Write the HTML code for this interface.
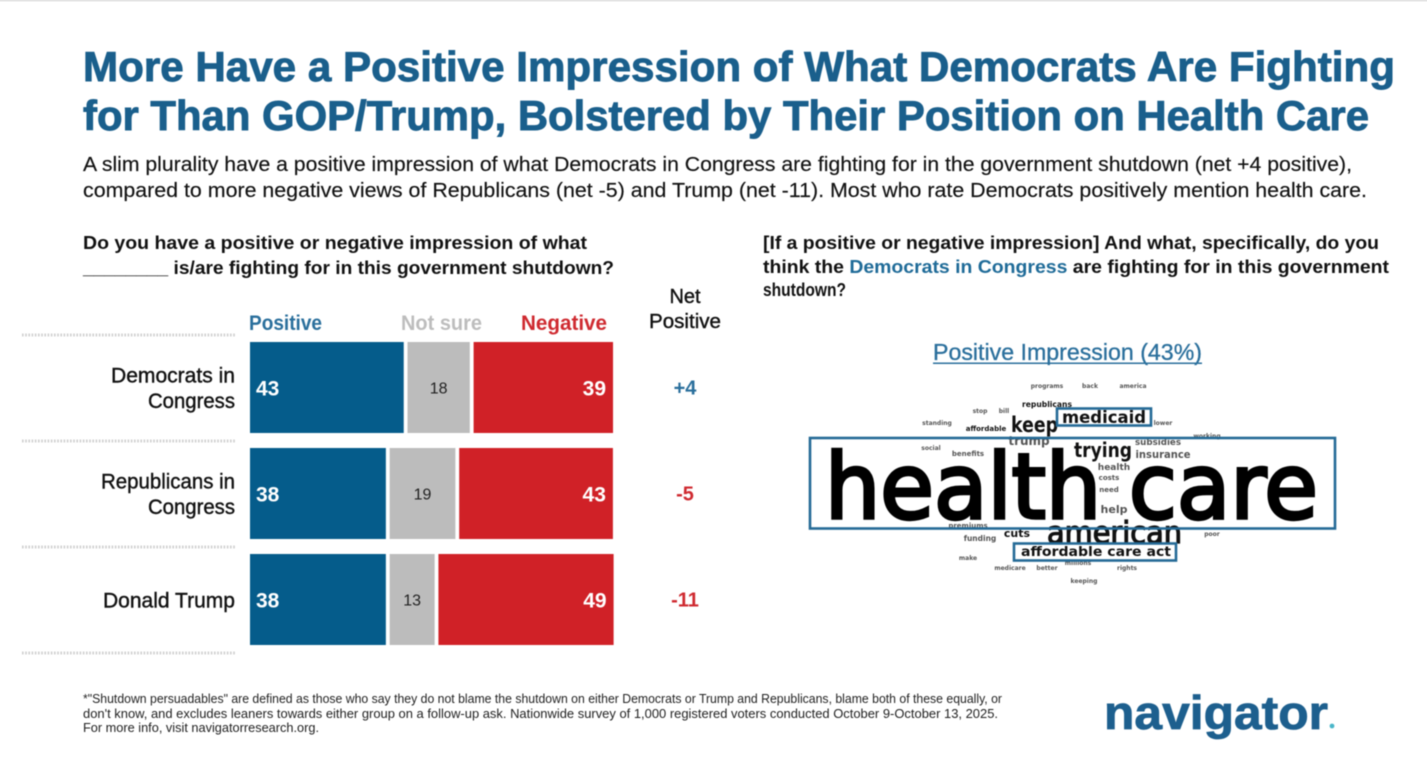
<!DOCTYPE html>
<html lang="en">
<head>
<meta charset="utf-8">
<title>Navigator impressions chart</title>
<style>
html,body{margin:0;padding:0;background:#fff;width:1427px;height:775px;overflow:hidden}
svg{display:block}
text{font-family:"Liberation Sans",sans-serif}
.wc text{font-family:"DejaVu Sans",sans-serif;font-weight:bold;fill:#111}
.wc .sm{fill:#555}
#page{filter:blur(.5px)}
.wc{filter:blur(.35px)}
</style>
</head>
<body>
<svg id="root" width="1427" height="775" viewBox="0 0 1427 775">
<rect x="0" y="0" width="1427" height="775" fill="#fff"/>
<rect x="0" y="0" width="1427" height="1.5" fill="#e3e3e3"/>
<g id="page">
<g fill="#1a5f8c" stroke="#1a5f8c" stroke-width="0.9" font-weight="bold" font-size="42">
<text x="83" y="81" textLength="1312" lengthAdjust="spacingAndGlyphs">More Have a Positive Impression of What Democrats Are Fighting</text>
<text x="83" y="130" textLength="1286" lengthAdjust="spacingAndGlyphs">for Than GOP/Trump, Bolstered by Their Position on Health Care</text>
</g>
<g fill="#111" stroke="#111" stroke-width="0.15" font-size="20">
<text x="83" y="171" textLength="1269" lengthAdjust="spacingAndGlyphs">A slim plurality have a positive impression of what Democrats in Congress are fighting for in the government shutdown (net +4 positive),</text>
<text x="83" y="197" textLength="1284" lengthAdjust="spacingAndGlyphs">compared to more negative views of Republicans (net -5) and Trump (net -11). Most who rate Democrats positively mention health care.</text>
</g>
<g fill="#111" font-size="18.5" font-weight="bold">
<text x="83" y="249" textLength="504" lengthAdjust="spacingAndGlyphs">Do you have a positive or negative impression of what</text>
<text x="83" y="274" textLength="531" lengthAdjust="spacingAndGlyphs">________ is/are fighting for in this government shutdown?</text>
</g>
<g fill="#111" font-size="18.5" font-weight="bold">
<text x="763" y="249" textLength="616" lengthAdjust="spacingAndGlyphs">[If a positive or negative impression] And what, specifically, do you</text>
<text x="763" y="273" textLength="626" lengthAdjust="spacingAndGlyphs">think the <tspan fill="#1f6b98">Democrats in Congress</tspan> are fighting for in this government</text>
<text x="763" y="296" textLength="83" lengthAdjust="spacingAndGlyphs">shutdown?</text>
</g>

<g id="chart"></g>

<text x="933" y="360" textLength="269" lengthAdjust="spacingAndGlyphs" font-size="23" fill="#2a6f9c" stroke="#2a6f9c" stroke-width="0.3">Positive Impression (43%)</text>
<rect x="933" y="362.5" width="269" height="1.5" fill="#2a6f9c"/>

<g class="wc">
<text class="sm" x="1047" y="388" text-anchor="middle" font-size="6">programs</text>
<text class="sm" x="1090" y="388" text-anchor="middle" font-size="6">back</text>
<text class="sm" x="1133" y="388" text-anchor="middle" font-size="6">america</text>
<text x="1047" y="407" text-anchor="middle" font-size="8" textLength="50" lengthAdjust="spacingAndGlyphs">republicans</text>
<text class="sm" x="980" y="413" text-anchor="middle" font-size="6">stop</text>
<text class="sm" x="1004" y="413" text-anchor="middle" font-size="6">bill</text>
<text class="sm" x="937" y="425" text-anchor="middle" font-size="6">standing</text>
<text x="986" y="431" text-anchor="middle" font-size="7">affordable</text>
<text x="1011" y="432" font-size="21" textLength="47" lengthAdjust="spacingAndGlyphs">keep</text>
<text x="1062" y="423" font-size="17" textLength="84" lengthAdjust="spacingAndGlyphs">medicaid</text>
<text class="sm" x="1163" y="425" text-anchor="middle" font-size="6">lower</text>
<text class="sm" x="1207" y="438" text-anchor="middle" font-size="6">working</text>
<text class="sm" x="1029" y="445" text-anchor="middle" font-size="12">trump</text>
<text class="sm" x="1158" y="445" text-anchor="middle" font-size="9" textLength="46" lengthAdjust="spacingAndGlyphs">subsidies</text>
<text class="sm" x="1163" y="458" text-anchor="middle" font-size="11" textLength="55" lengthAdjust="spacingAndGlyphs">insurance</text>
<text class="sm" x="931" y="450" text-anchor="middle" font-size="6">social</text>
<text class="sm" x="968" y="456" text-anchor="middle" font-size="7">benefits</text>
<text x="1074" y="457" font-size="20" textLength="58" lengthAdjust="spacingAndGlyphs">trying</text>
<text class="sm" x="1114" y="470" text-anchor="middle" font-size="9">health</text>
<text class="sm" x="1109" y="480" text-anchor="middle" font-size="7">costs</text>
<text class="sm" x="1109" y="492" text-anchor="middle" font-size="7">need</text>
<text class="sm" x="1114" y="513" text-anchor="middle" font-size="11">help</text>
<text x="825" y="518" font-size="90" textLength="493" lengthAdjust="spacingAndGlyphs" style="font-weight:normal;stroke:#000;stroke-width:3.4;fill:#000">health care</text>
<text class="sm" x="968" y="528" text-anchor="middle" font-size="7">premiums</text>
<text class="sm" x="980" y="541" text-anchor="middle" font-size="7.5">funding</text>
<text x="1017" y="537" text-anchor="middle" font-size="11">cuts</text>
<text x="1047" y="543" font-size="30" textLength="135" lengthAdjust="spacingAndGlyphs" style="font-weight:normal;stroke:#111;stroke-width:1.2">american</text>
<text class="sm" x="1212" y="536" text-anchor="middle" font-size="6">poor</text>
<text x="1021" y="556" font-size="13" textLength="150" lengthAdjust="spacingAndGlyphs">affordable care act</text>
<text class="sm" x="968" y="560" text-anchor="middle" font-size="6">make</text>
<text class="sm" x="1010" y="570" text-anchor="middle" font-size="6">medicare</text>
<text class="sm" x="1047" y="570" text-anchor="middle" font-size="6">better</text>
<text class="sm" x="1078" y="565" text-anchor="middle" font-size="6">millions</text>
<text class="sm" x="1127" y="570" text-anchor="middle" font-size="6">rights</text>
<text class="sm" x="1084" y="583" text-anchor="middle" font-size="6">keeping</text>
<rect x="810" y="438" width="525" height="90.5" fill="none" stroke="#246a96" stroke-width="2.6"/>
<rect x="1057" y="408.5" width="94" height="17" fill="none" stroke="#246a96" stroke-width="2.6"/>
<rect x="1014" y="543.5" width="162" height="17" fill="none" stroke="#246a96" stroke-width="2.6"/>
</g>

<g font-size="13" fill="#222">
<text x="83" y="703" textLength="919" lengthAdjust="spacingAndGlyphs">*"Shutdown persuadables" are defined as those who say they do not blame the shutdown on either Democrats or Trump and Republicans, blame both of these equally, or</text>
<text x="83" y="718" textLength="915" lengthAdjust="spacingAndGlyphs">don't know, and excludes leaners towards either group on a follow-up ask. Nationwide survey of 1,000 registered voters conducted October 9-October 13, 2025.</text>
<text x="83" y="732" textLength="236" lengthAdjust="spacingAndGlyphs">For more info, visit navigatorresearch.org.</text>
</g>
<text x="1104" y="729" font-size="47" font-weight="bold" fill="#1d5f8e" stroke="#1d5f8e" stroke-width="0.8" textLength="224" lengthAdjust="spacingAndGlyphs">navigator</text>
<circle cx="1332" cy="726" r="2.4" fill="#4ab6c9"/>
</g>
</svg>
<script>
const categories = [["Democrats in", "Congress"], ["Republicans in", "Congress"], ["Donald Trump"]];
const positiveValues = [43, 38, 38];
const notSureValues = [18, 19, 13];
const negativeValues = [39, 43, 49];
const netValues = [4, -5, -11];
const legendLabels = ["Positive", "Not sure", "Negative"];

const chart = document.getElementById('chart');
const NS = 'http://www.w3.org/2000/svg';
const BLUE = '#055c8b', GREY = '#bcbcbc', RED = '#d02127';
const plotLeft = 250, rowTop = 342, rowStep = 106, barHeight = 91, gap = 3.8;
const sideUnit = 3.575, middleUnit = 3.46;
const labelFit = {'Democrats in': 124, 'Republicans in': 134, 'Congress': 87, 'Donald Trump': 132};

function sideLen(v) { return v * sideUnit; }
function middleLen(v) { return v * middleUnit; }
function yRow(i) { return rowTop + i * rowStep; }

function svgEl(tag, attrs, text) {
  const el = document.createElementNS(NS, tag);
  for (const k in attrs) el.setAttribute(k, attrs[k]);
  if (text !== undefined) el.textContent = text;
  chart.appendChild(el);
  return el;
}

function addSeparator(y) {
  const el = svgEl('line', {x1: 22, x2: 235, y1: y, y2: y, stroke: '#cfcfcf', 'stroke-width': 3, 'stroke-dasharray': '1.6 1.6'});
  
  
}

const legendAttrs = [
  {x: 249, fill: '#2a6f9c', textLength: 73},
  {x: 401, fill: '#bdbdbd', textLength: 81},
  {x: 521, fill: '#cf2a30', textLength: 86}
];
legendLabels.forEach(function (label, i) {
  const el = svgEl('text', {x: legendAttrs[i].x, y: 330, fill: legendAttrs[i].fill, 'font-size': 21, 'font-weight': 'bold', textLength: legendAttrs[i].textLength, lengthAdjust: 'spacingAndGlyphs'}, label);
  
  
});

const netHead1 = svgEl('text', {x: 685, y: 303, 'text-anchor': 'middle', fill: '#111', stroke: '#111', 'stroke-width': 0.4, 'font-size': 20}, 'Net');


const netHead2 = svgEl('text', {x: 685, y: 328, 'text-anchor': 'middle', fill: '#111', stroke: '#111', 'stroke-width': 0.4, 'font-size': 20, textLength: 72, lengthAdjust: 'spacingAndGlyphs'}, 'Positive');



categories.forEach(function (cat, i) {
  const top = yRow(i);
  const mid = top + barHeight / 2;
  addSeparator(top - 7);

  const lines = cat.length;
  cat.forEach(function (line, j) {
    const baseline = lines === 2 ? mid + (j === 0 ? -5 : 20.5) : mid + 8;
    const lab = svgEl('text', {x: 235, y: baseline, 'text-anchor': 'end', fill: '#111', stroke: '#111', 'stroke-width': 0.4, 'font-size': 21, textLength: labelFit[line], lengthAdjust: 'spacingAndGlyphs'}, line);
    
    
  });

  const posW = sideLen(positiveValues[i]);
  const nsW = middleLen(notSureValues[i]);
  const negW = sideLen(negativeValues[i]);
  const nsX = plotLeft + posW + gap;
  const negX = nsX + nsW + gap;

  const b1 = svgEl('rect', {x: plotLeft, y: top, width: posW, height: barHeight, fill: BLUE});
  
  
  const b2 = svgEl('rect', {x: nsX, y: top, width: nsW, height: barHeight, fill: GREY});
  
  
  const b3 = svgEl('rect', {x: negX, y: top, width: negW, height: barHeight, fill: RED});
  
  

  const t1 = svgEl('text', {x: plotLeft + 6, y: mid + 8, fill: '#fff', 'font-size': 21, 'font-weight': 'bold'}, String(positiveValues[i]));
  
  
  const t2 = svgEl('text', {x: nsX + nsW / 2, y: mid + 6, 'text-anchor': 'middle', fill: '#222', 'font-size': 16}, String(notSureValues[i]));
  
  
  const t3 = svgEl('text', {x: negX + negW - 7, y: mid + 8, 'text-anchor': 'end', fill: '#fff', 'font-size': 21, 'font-weight': 'bold'}, String(negativeValues[i]));
  
  

  const net = netValues[i];
  const t4 = svgEl('text', {x: 685, y: mid + 7, 'text-anchor': 'middle', fill: net >= 0 ? '#2a6f9c' : '#cf2a30', 'font-size': 20, 'font-weight': 'bold'}, (net >= 0 ? '+' : '') + net);
  
  
});
addSeparator(yRow(categories.length) - 7);
</script>
</body>
</html>
